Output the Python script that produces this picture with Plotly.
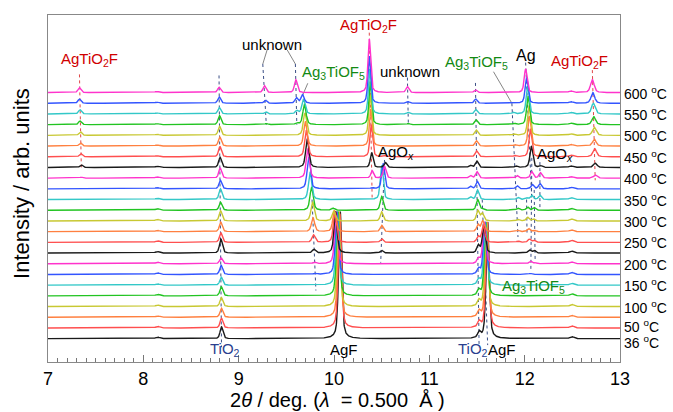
import numpy as np
import plotly.graph_objects as go

# ---------------- data ----------------
temps = [36, 50, 75, 100, 125, 150, 175, 200, 225, 250, 275, 300,
         325, 350, 375, 400, 425, 450, 475, 500, 525, 550, 575, 600]
labelled_temps = [36, 50, 100, 150, 200, 250, 300, 350, 400, 450, 500, 550, 600]
tick_vals = [7, 8, 9, 10, 11, 12, 13]
tick_text = ["7", "8", "9", "10", "11", "12", "13"]

def pad(start, vals):
    return [None] * start + list(vals) + [None] * (24 - start - len(vals))

# TiO2 (8.8 deg)
tio2_88_pos = [8.820, 8.820, 8.819, 8.818, 8.818, 8.817, 8.816, 8.815, 8.814, 8.813, 8.812, 8.811,
               8.810, 8.809, 8.808, 8.806, 8.805, 8.804, 8.802, 8.800, 8.799, 8.797, 8.796, 8.794]
tio2_88_h = [1.10, 0.90, 0.85, 0.85, 0.85, 0.75, 0.85, 0.55, 1.30, 0.90, 0.90, 0.95,
             0.75, 1.00, 0.80, 0.95, 0.95, 0.95, 0.85, 0.85, 0.85, 0.60, 0.60, 0.50]
# TiO2 (11.5 deg)
tio2_115_pos = [11.522, 11.521, 11.520, 11.519, 11.518, 11.517, 11.516, 11.515, 11.513, 11.512, 11.511, 11.509,
                11.507, 11.505, 11.503, 11.500, 11.498, 11.496, 11.494, 11.492, 11.490, 11.488, 11.486, 11.484]
tio2_115_h = [0.55, 0.55, 0.55, 0.55, 0.50, 0.50, 0.50, 0.45, 0.70, 0.55, 0.65, 0.95,
              1.00, 0.90, 0.70, 0.60, 0.60, 0.55, 0.50, 0.50, 0.45, 0.40, 0.40, 0.25]
# weak reflections present in all patterns
weak_815_pos = [8.150, 8.150, 8.150, 8.150, 8.150, 8.149, 8.149, 8.149, 8.148, 8.148, 8.148, 8.147,
                8.147, 8.146, 8.146, 8.145, 8.145, 8.144, 8.144, 8.143, 8.143, 8.142, 8.142, 8.141]
weak_815_h = [0.15, 0.15, 0.12, 0.15, 0.15, 0.12, 0.15, 0.15, 0.15, 0.15, 0.12, 0.15,
              0.15, 0.12, 0.12, 0.12, 0.12, 0.10, 0.10, 0.10, 0.10, 0.10, 0.10, 0.10]
weak_1249_pos = [12.495, 12.495, 12.494, 12.494, 12.493, 12.493, 12.492, 12.492, 12.491, 12.491, 12.490, 12.490,
                 12.489, 12.489, 12.488, 12.488, 12.487, 12.487, 12.486, 12.486, 12.485, 12.485, 12.484, 12.484]
weak_1249_h = [0.20, 0.20, 0.18, 0.20, 0.20, 0.18, 0.20, 0.18, 0.20, 0.20, 0.18, 0.20,
               0.18, 0.18, 0.15, 0.15, 0.15, 0.15, 0.15, 0.15, 0.15, 0.15, 0.15, 0.15]
# AgF
agf111_pos = pad(0, [10.065, 10.061, 10.055, 10.048, 10.042, 10.035, 10.029, 10.022, 10.016, 10.009, 10.003, 9.996, 9.990])
agf111_h = pad(0, [11.9, 10.7, 9.9, 8.8, 7.9, 6.8, 5.9, 4.8, 3.9, 2.8, 2.0, 0.9, 0.2])
agf200_pos = pad(0, [11.612, 11.609, 11.604, 11.598, 11.593, 11.587, 11.582, 11.577, 11.571, 11.566, 11.560, 11.555, 11.550])
agf200_h = pad(0, [10.9, 9.9, 8.9, 7.9, 6.9, 5.9, 4.9, 3.9, 2.5, 1.6, 1.0, 0.7, 0.1])
# Ag3TiOF5
a3_main_pos = pad(6, [9.800, 9.795, 9.790, 9.785, 9.780, 9.775, 9.765, 9.750, 9.735, 9.725, 9.720, 9.710, 9.700, 9.695, 9.690, 9.680, 9.670])
a3_main_h = pad(6, [0.10, 0.15, 0.35, 0.70, 1.30, 1.80, 2.20, 2.60, 3.00, 2.80, 2.70, 2.50, 2.30, 2.10, 1.90, 1.40, 0.80])
a3_1203_pos = pad(6, [12.06, 12.06, 12.05, 12.05, 12.04, 12.03, 12.03, 12.02])
a3_1203_h = pad(6, [0.10, 0.25, 0.30, 0.30, 0.30, 0.35, 0.30, 0.15])
a3_1210_pos = pad(7, [12.11, 12.10, 12.10, 12.10, 12.09, 12.10, 12.075, 12.08])
a3_1210_h = pad(7, [0.10, 0.25, 0.20, 0.15, 0.20, 0.25, 0.40, 0.40])
a3_1190_pos = pad(9, [11.93, 11.93, 11.93, 11.93, 11.93, 11.92, 11.92, 11.91, 11.90, 11.90, 11.89, 11.89, 11.88])
a3_1190_h = pad(9, [0.12, 0.12, 0.15, 0.20, 0.20, 0.30, 0.25, 0.15, 0.12, 0.12, 0.12, 0.12, 0.15])
a3_1143_pos = pad(13, [11.43, 11.43, 11.43, 11.43])
a3_1143_h = pad(13, [0.25, 0.25, 0.25, 0.20])
# AgOx
agox_1050_pos = pad(8, [10.50, 10.50, 10.50, 10.50, 10.50, 10.50, 10.515, 10.53, 10.54, 10.54])
agox_1050_h = pad(8, [0.25, 0.35, 0.60, 0.85, 1.30, 3.20, 2.40, 1.10, 0.45, 0.10])
agox_1216_pos = pad(13, [12.16, 12.16, 12.165, 12.17])
agox_1216_h = pad(13, [0.40, 0.50, 0.50, 0.15])
# AgTiO2F
agt_733_pos = pad(15, [7.350, 7.350, 7.345, 7.340, 7.340, 7.335, 7.335, 7.330, 7.330])
agt_733_h = pad(15, [0.10, 0.25, 0.30, 0.30, 0.35, 0.35, 0.40, 0.40, 0.45])
agt_1037_pos = pad(14, [10.400, 10.400, 10.395, 10.390, 10.385, 10.380, 10.380, 10.375, 10.370, 10.370])
agt_1037_h = pad(14, [0.10, 0.70, 1.40, 3.00, 3.50, 3.80, 4.00, 4.20, 4.40, 5.00])
agt_1272_pos = pad(15, [12.740, 12.740, 12.735, 12.730, 12.730, 12.725, 12.720, 12.715, 12.710])
agt_1272_h = pad(15, [0.30, 0.40, 0.75, 0.65, 0.75, 0.75, 1.00, 1.00, 1.20])
# Ag
ag_pos = pad(15, [12.075, 12.070, 12.060, 12.050, 12.045, 12.035, 12.030, 12.020, 12.010])
ag_h = pad(15, [0.60, 2.00, 2.60, 2.80, 2.80, 2.70, 2.60, 2.40, 2.20])
# unknown
unk_927_pos = pad(20, [9.290, 9.285, 9.280, 9.270])
unk_927_h = pad(20, [0.10, 0.20, 0.30, 0.65])
unk_960_pos = pad(20, [9.610, 9.610, 9.605, 9.600])
unk_960_h = pad(20, [0.15, 0.30, 0.50, 1.20])
unk_1077_pos = pad(20, [10.780, 10.780, 10.775, 10.770])
unk_1077_h = pad(20, [0.10, 0.15, 0.15, 0.55])

# ---------------- styles ----------------
cycle = ["#1a1a1a", "#ff4f4f", "#ff8040", "#c8c832", "#22c422", "#33c8c8", "#3355ff", "#ff33cc"]
FONT = "Arial, Liberation Sans, sans-serif"
NAVY = "#3b4f86"
REDD = "#e04848"

peak_sets = [
    (tio2_88_pos, tio2_88_h, 0.035), (tio2_115_pos, tio2_115_h, 0.035),
    (weak_815_pos, weak_815_h, 0.05), (weak_1249_pos, weak_1249_h, 0.05),
    (agf111_pos, agf111_h, 0.038), (agf200_pos, agf200_h, 0.038),
    (a3_main_pos, a3_main_h, 0.04), (a3_1203_pos, a3_1203_h, 0.035),
    (a3_1210_pos, a3_1210_h, 0.035), (a3_1190_pos, a3_1190_h, 0.035),
    (a3_1143_pos, a3_1143_h, 0.035), (agox_1050_pos, agox_1050_h, 0.035),
    (agox_1216_pos, agox_1216_h, 0.035), (agt_733_pos, agt_733_h, 0.035),
    (agt_1037_pos, agt_1037_h, 0.033), (agt_1272_pos, agt_1272_h, 0.045),
    (ag_pos, ag_h, 0.035), (unk_927_pos, unk_927_h, 0.035),
    (unk_960_pos, unk_960_h, 0.035), (unk_1077_pos, unk_1077_h, 0.035),
]

x = np.linspace(7.0, 13.0, 3001)

def pv(x, c, h, fwhm, eta=0.5):
    g = np.exp(-4 * np.log(2) * ((x - c) / fwhm) ** 2)
    l = 1.0 / (1.0 + 4 * ((x - c) / fwhm) ** 2)
    return h * (eta * l + (1 - eta) * g)

fig = go.Figure()

# ---------------- guide lines (dotted) ----------------
def guide(x0, y0, x1, y1, color):
    fig.add_trace(go.Scatter(x=[x0, x1], y=[y0, y1], mode="lines",
                             line=dict(color=color, width=1, dash="dot"),
                             hoverinfo="skip", showlegend=False))

def leader(x0, y0, x1, y1):
    fig.add_trace(go.Scatter(x=[x0, x1], y=[y0, y1], mode="lines",
                             line=dict(color="#666666", width=0.8),
                             hoverinfo="skip", showlegend=False))

guide(tio2_88_pos[23], 24.6, tio2_88_pos[0], -0.8, NAVY)
guide(tio2_115_pos[23], 23.9, tio2_115_pos[0], -0.8, NAVY)
guide(agf200_pos[11], 13.0, agf200_pos[0], -0.6, NAVY)
guide(agt_733_pos[23], 24.7, agt_733_pos[16], 15.75, REDD)
guide(agt_1037_pos[23], 28.6, agt_1037_pos[14], 13.2, REDD)
guide(agt_1272_pos[23], 25.1, agt_1272_pos[15], 14.8, REDD)
guide(9.253, 25.67, unk_927_pos[20], 20.0, NAVY)
guide(9.595, 25.67, unk_960_pos[20], 20.0, NAVY)
guide(unk_1077_pos[23], 24.4, unk_1077_pos[20], 20.0, NAVY)
guide(ag_pos[23], 25.8, ag_pos[15], 13.0, NAVY)
guide(11.866, 22.0, a3_1190_pos[9], 9.5, NAVY)
guide(9.77, 13.0, 9.81, 4.5, NAVY)
guide(10.53, 16.7, 10.49, 7.1, NAVY)
guide(12.02, 13.0, 12.025, 9.7, NAVY)
guide(12.075, 16.9, 12.065, 6.4, NAVY)
guide(12.10, 13.9, 12.11, 7.2, NAVY)
guide(12.16, 16.5, 12.16, 12.0, NAVY)
leader(9.299, 27.0, 9.253, 25.67)
leader(9.508, 27.0, 9.595, 25.67)
leader(9.725, 23.87, 9.672, 22.77)
leader(11.673, 24.95, 11.866, 22.0)

# ---------------- patterns ----------------
for i, t in enumerate(temps):
    y = np.full_like(x, float(i))
    for pos, hts, w in peak_sets:
        if pos[i] is not None and hts[i]:
            y = y + pv(x, pos[i], hts[i], w)
    fig.add_trace(go.Scatter(x=x, y=y, mode="lines", name=f"{t} ºC",
                             line=dict(color=cycle[i % 8], width=1.4),
                             showlegend=False, hoverinfo="skip"))

# ---------------- annotations ----------------
ann = []
label_shift = {36: -3, 50: 1.5}
for t in labelled_temps:
    i = temps.index(t)
    ann.append(dict(x=1, xref="paper", xshift=2, xanchor="left", y=i, yref="y",
                    yshift=label_shift.get(t, 0), yanchor="middle",
                    text=f"{t} <sup>o</sup>C", showarrow=False,
                    font=dict(family=FONT, size=14, color="black")))

def lab(xv, yv, text, color, size=15):
    ann.append(dict(x=xv, y=yv, xref="x", yref="y", text=text, showarrow=False,
                    xanchor="center", yanchor="middle",
                    font=dict(family=FONT, size=size, color=color)))

RED = "#d00000"
GREEN = "#138a13"
BLUE = "#2a3f8f"
lab(7.437, 26.1, "AgTiO<sub>2</sub>F", RED)
lab(9.354, 27.45, "unknown", "black")
lab(9.993, 24.83, "Ag<sub>3</sub>TiOF<sub>5</sub>", GREEN)
lab(10.36, 29.3, "AgTiO<sub>2</sub>F", RED)
lab(10.80, 25.0, "unknown", "black")
lab(11.49, 25.77, "Ag<sub>3</sub>TiOF<sub>5</sub>", GREEN)
lab(12.015, 26.5, "Ag", "black", 16)
lab(12.57, 25.86, "AgTiO<sub>2</sub>F", RED)
lab(10.653, 17.36, "AgO<sub><i>x</i></sub>", "black")
lab(12.318, 17.17, "AgO<sub><i>x</i></sub>", "black")
lab(12.09, 4.83, "Ag<sub>3</sub>TiOF<sub>5</sub>", GREEN)
lab(8.853, -1.05, "TiO<sub>2</sub>", BLUE)
lab(10.11, -1.05, "AgF", "black")
lab(11.46, -1.05, "TiO<sub>2</sub>", BLUE)
lab(11.764, -1.05, "AgF", "black")

nb = "\u00a0"
ann.append(dict(x=10.035, xref="x", y=0, yref="paper", yshift=-38, yanchor="middle",
                text=f"2<i>θ</i> / deg. (<i>λ</i>{nb} = 0.500 {nb}Å )", showarrow=False,
                borderpad=0,
                font=dict(family=FONT, size=20, color="black")))
ann.append(dict(x=0, xref="paper", xshift=-26, y=14.46, yref="y", textangle=-90,
                xanchor="center", yanchor="middle",
                text="Intensity / arb. units", showarrow=False,
                font=dict(family=FONT, size=22, color="black")))

fig.update_layout(
    width=673, height=412,
    margin=dict(l=48, r=53, t=15, b=50),
    paper_bgcolor="white", plot_bgcolor="white",
    annotations=ann, showlegend=False,
    xaxis=dict(range=[7, 13], tickvals=tick_vals, ticktext=tick_text,
               ticks="inside", ticklen=7, tickcolor="#777777", tickwidth=1,
               showline=True, linecolor="#888888", linewidth=1, mirror=True,
               showgrid=False, zeroline=False,
               minor=dict(ticks="inside", dtick=0.1, ticklen=4, tickcolor="#777777", showgrid=False),
               tickfont=dict(family=FONT, size=18, color="black")),
    yaxis=dict(range=[-2.18, 30.25], showticklabels=False, ticks="",
               showline=True, linecolor="#888888", linewidth=1, mirror=True,
               showgrid=False, zeroline=False),
)

fig.write_html("out.html")
